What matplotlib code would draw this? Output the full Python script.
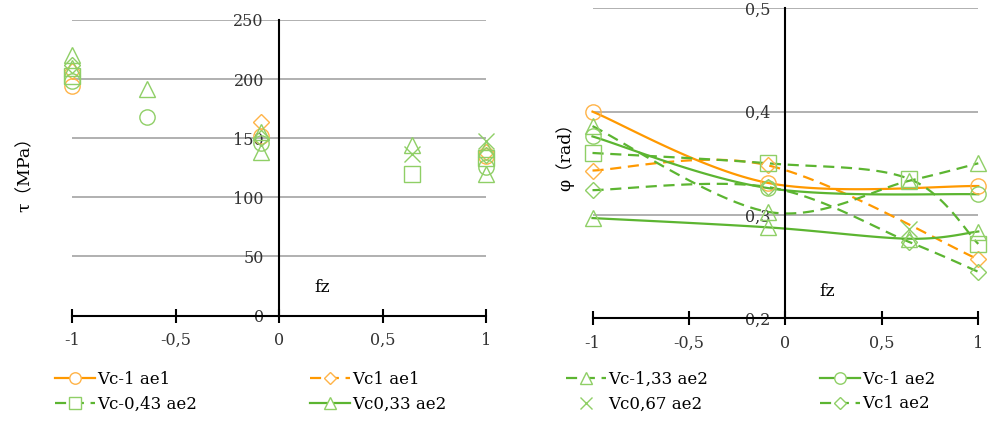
import matplotlib.pyplot as plt
from matplotlib.lines import Line2D
import numpy as np

plt.rcParams['font.family'] = ['DejaVu Serif', 'Noto Sans CJK SC']

names = ['Vc-1 ae1', 'Vc1 ae1', 'Vc-0,43 ae2', 'Vc0,33 ae2',
         'Vc-1,33 ae2', 'Vc-1 ae2', 'Vc0,67 ae2', 'Vc1 ae2']

# left panel: shear stress tau (MPa), markers only
tau_x = {
    'Vc-1 ae1':    [-1, -0.09, 1],
    'Vc1 ae1':     [-1, -0.09, 1],
    'Vc-0,43 ae2': [-1, 0.64, 1],
    'Vc0,33 ae2':  [-1, -0.09, 0.64, 1],
    'Vc-1,33 ae2': [-1, -0.64, -0.09, 1],
    'Vc-1 ae2':    [-1, -0.64, -0.09, 1],
    'Vc0,67 ae2':  [0.64, 1],
    'Vc1 ae2':     [-1, -0.09, 1],
}
tau_y = {
    'Vc-1 ae1':    [194, 152, 135],
    'Vc1 ae1':     [207, 164, 138],
    'Vc-0,43 ae2': [203, 120, 133],
    'Vc0,33 ae2':  [209, 138, 144, 120],
    'Vc-1,33 ae2': [220, 192, 155, 141],
    'Vc-1 ae2':    [198, 168, 146, 126],
    'Vc0,67 ae2':  [137, 148],
    'Vc1 ae2':     [212, 150, 136],
}

# right panel: angle phi (rad)
phi_x = {
    'Vc-1 ae1':    [-1, -0.09, 1],
    'Vc1 ae1':     [-1, -0.09, 1],
    'Vc-0,43 ae2': [-1, -0.09, 0.64, 1],
    'Vc0,33 ae2':  [-1, -0.09, 0.64, 1],
    'Vc-1,33 ae2': [-1, -0.09, 0.64, 1],
    'Vc-1 ae2':    [-1, -0.09, 1],
    'Vc0,67 ae2':  [0.64],
    'Vc1 ae2':     [-1, -0.09, 0.64, 1],
}
phi_y = {
    'Vc-1 ae1':    [0.400, 0.331, 0.328],
    'Vc1 ae1':     [0.343, 0.348, 0.257],
    'Vc-0,43 ae2': [0.360, 0.350, 0.335, 0.272],
    'Vc0,33 ae2':  [0.297, 0.288, 0.277, 0.284],
    'Vc-1,33 ae2': [0.386, 0.303, 0.333, 0.350],
    'Vc-1 ae2':    [0.376, 0.326, 0.320],
    'Vc0,67 ae2':  [0.286],
    'Vc1 ae2':     [0.324, 0.327, 0.274, 0.245],
}

orange_l, orange_m = '#ff9900', '#ffb347'
green_l, green_m = '#5cb531', '#8fcf66'
style = {
    'Vc-1 ae1':    (orange_l, orange_m, 'o', '-', 11),
    'Vc1 ae1':     (orange_l, orange_m, 'D', '--', 8),
    'Vc-0,43 ae2': (green_l, green_m, 's', '--', 11),
    'Vc0,33 ae2':  (green_l, green_m, '^', '-', 12),
    'Vc-1,33 ae2': (green_l, green_m, '^', '--', 12),
    'Vc-1 ae2':    (green_l, green_m, 'o', '-', 11),
    'Vc0,67 ae2':  (green_l, green_m, 'x', 'none', 11),
    'Vc1 ae2':     (green_l, green_m, 'D', '--', 8),
}


def smooth(x, y, n=40):
    # Excel-like smoothed line through the points (Bezier, Catmull-Rom tangents)
    pts = np.column_stack([x, y]).astype(float)
    out = []
    for i in range(len(pts) - 1):
        p0 = pts[max(i - 1, 0)]
        p1 = pts[i]
        p2 = pts[i + 1]
        p3 = pts[min(i + 2, len(pts) - 1)]
        c1 = p1 + (p2 - p0) / 6
        c2 = p2 - (p3 - p1) / 6
        t = np.linspace(0, 1, n)[:, None]
        out.append((1 - t)**3 * p1 + 3 * (1 - t)**2 * t * c1
                   + 3 * (1 - t) * t**2 * c2 + t**3 * p2)
    return np.vstack(out)


W, H = 989, 421
fig = plt.figure(figsize=(W / 100, H / 100), dpi=100)
ax1 = fig.add_axes([72.3 / W, (H - 315.5) / H, 413.7 / W, 295.5 / H])
ax2 = fig.add_axes([592.5 / W, (H - 318.3) / H, 385.8 / W, 310 / H])


def setup(ax, ylim, yticks, ylabels, grid):
    ax.set_xlim(-1, 1)
    ax.set_ylim(*ylim)
    for s in ['top', 'right']:
        ax.spines[s].set_visible(False)
    ax.spines['left'].set_position(('data', 0))
    ax.spines['left'].set_linewidth(1.5)
    ax.spines['bottom'].set_linewidth(1.5)
    ax.set_yticks(yticks)
    ax.set_yticklabels(ylabels)
    ax.set_xticks([-1, -0.5, 0, 0.5, 1])
    ax.set_xticklabels(['-1', '-0,5', '0', '0,5', '1'])
    ax.tick_params(axis='y', length=0, pad=11, labelsize=11.5, colors='#333333')
    ax.tick_params(axis='x', direction='inout', length=10, width=1.5,
                   pad=7, labelsize=11.5, colors='black', labelcolor='#333333')
    for v in grid:
        ax.axhline(v, color='#b0b0b0', lw=1.4, zorder=0)
    ax.set_axisbelow(True)


setup(ax1, (0, 250), [0, 50, 100, 150, 200, 250],
      ['0', '50', '100', '150', '200', '250'], [50, 100, 150, 200, 250])
setup(ax2, (0.2, 0.5), [0.2, 0.3, 0.4, 0.5],
      ['0,2', '0,3', '0,4', '0,5'], [0.3, 0.4, 0.5])

for nm in names:
    lc, mc, mk, ls, ms = style[nm]
    ax1.plot(tau_x[nm], tau_y[nm], ls='none', marker=mk, ms=ms, mfc='none',
             mec=mc, mew=1.0, clip_on=False, zorder=3)
    if ls != 'none':
        sp = smooth(phi_x[nm], phi_y[nm])
        line, = ax2.plot(sp[:, 0], sp[:, 1], ls=ls, color=lc, lw=1.6,
                         clip_on=False, zorder=2)
        if ls == '--':
            line.set_dashes((5, 3))
    ax2.plot(phi_x[nm], phi_y[nm], ls='none', marker=mk, ms=ms, mfc='none',
             mec=mc, mew=1.0, clip_on=False, zorder=3)

fig.text(322 / W, 1 - 288 / H, 'fz', fontsize=12.5, ha='center', va='center')
fig.text(827 / W, 1 - 291 / H, 'fz', fontsize=12.5, ha='center', va='center')
fig.text(25 / W, 1 - 170 / H, 'τ（MPa）', fontsize=12.5, rotation=90,
         ha='center', va='center')
fig.text(565 / W, 1 - 153 / H, 'φ（rad）', fontsize=12.5, rotation=90,
         ha='center', va='center')


def handle(nm):
    lc, mc, mk, ls, ms = style[nm]
    h = Line2D([], [], color=lc if ls != 'none' else mc, ls=ls, lw=1.6,
               marker=mk, ms=ms * 0.75, mfc='white', mec=mc, mew=1.0)
    if ls == '--':
        h.set_dashes((5, 3))
    return h


cols = [(55, ['Vc-1 ae1', 'Vc-0,43 ae2']),
        (310, ['Vc1 ae1', 'Vc0,33 ae2']),
        (566, ['Vc-1,33 ae2', 'Vc0,67 ae2']),
        (820, ['Vc-1 ae2', 'Vc1 ae2'])]
for x0, nms in cols:
    fig.legend([handle(n) for n in nms], nms, loc='upper left',
               bbox_to_anchor=(x0 / W, 1 - 371 / H), frameon=False,
               fontsize=12, handlelength=2.4, handletextpad=0.15,
               borderpad=0, borderaxespad=0, labelspacing=0.45)

fig.savefig('out.png', dpi=100)
